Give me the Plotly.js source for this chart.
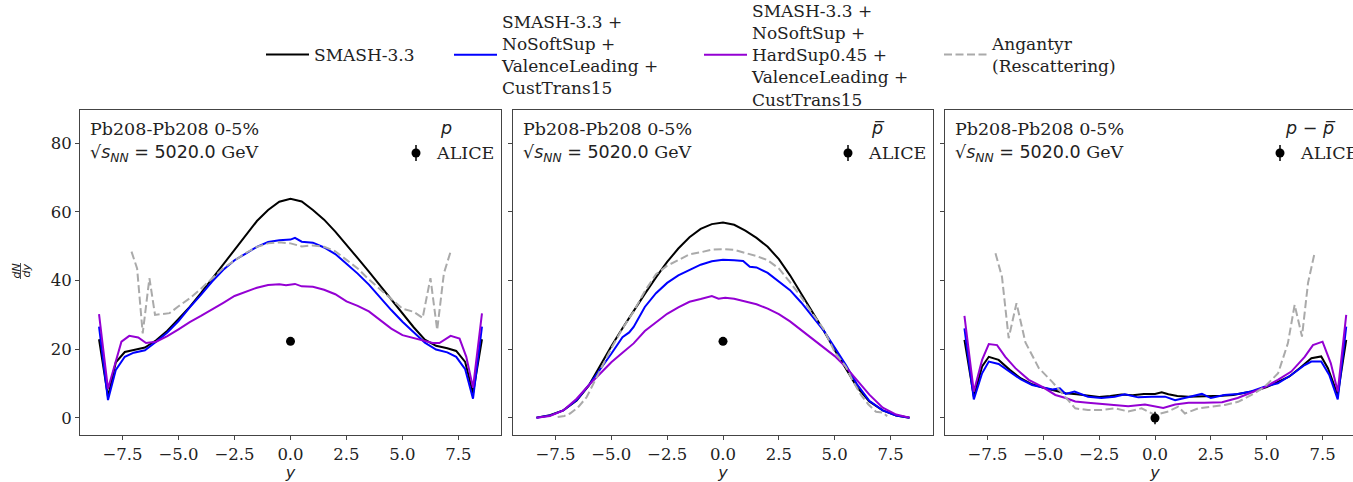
<!DOCTYPE html>
<html>
<head>
<meta charset="utf-8">
<script src="https://cdn.plot.ly/plotly-3.0.1.min.js"></script>
<style>
html,body{margin:0;padding:0;background:#fff;overflow:hidden;}
#chart{width:1370px;height:482px;}
</style>
</head>
<body>
<div id="chart"></div>
<script>
// ---------------- Data ----------------
const seriesNames = ["SMASH-3.3",
  "SMASH-3.3 +<br>NoSoftSup +<br>ValenceLeading +<br>CustTrans15",
  "SMASH-3.3 +<br>NoSoftSup +<br>HardSup0.45 +<br>ValenceLeading +<br>CustTrans15",
  "Angantyr<br>(Rescattering)"];
const panelLabels = ["<i>p</i>", "<i>p\u0305</i>", "<i>p</i> \u2212 <i>p\u0305</i>"];

// Panel 1: p
const p_smash_x = [-8.55,-8.15,-7.8,-7.4,-7.0,-6.5,-6.0,-5.5,-5.0,-4.5,-4.0,-3.5,-3.0,-2.5,-2.0,-1.5,-1.0,-0.5,0.0,0.5,1.0,1.5,2.0,2.5,3.0,3.5,4.0,4.5,5.0,5.5,6.0,6.5,7.0,7.4,7.8,8.15,8.55];
const p_smash_y = [22.9,6.2,16.2,19.2,19.8,20.5,22.6,25.4,28.8,32.3,36.3,40.5,44.6,49.0,53.0,57.3,60.5,62.9,63.8,63.0,60.5,57.7,54.2,50.5,46.5,42.6,38.6,34.5,30.4,26.4,22.8,21.0,20.3,19.5,16.3,7.2,22.9];
const p_nosoft_x = [-8.55,-8.15,-7.8,-7.4,-7.0,-6.5,-6.0,-5.5,-5.0,-4.5,-4.0,-3.5,-3.0,-2.5,-2.0,-1.5,-1.0,-0.5,0.0,0.2,0.5,1.0,1.5,2.0,2.5,3.0,3.5,4.0,4.5,5.0,5.5,6.0,6.5,7.0,7.4,7.8,8.15,8.55];
const p_nosoft_y = [26.6,5.2,14.0,17.8,19.0,19.7,22.2,24.9,28.2,32.2,35.8,39.7,43.1,45.9,47.8,49.8,51.2,51.7,51.9,52.4,51.3,51.0,49.6,47.7,44.9,42.0,38.8,35.0,31.4,28.0,25.0,21.9,19.9,19.1,17.8,14.2,5.6,26.6];
const p_hardsup_x = [-8.55,-8.15,-7.55,-7.2,-6.8,-6.45,-6.0,-5.5,-5.0,-4.5,-4.0,-3.5,-3.0,-2.5,-2.0,-1.5,-1.0,-0.5,-0.2,0.2,0.5,1.0,1.5,2.0,2.5,3.0,3.5,4.0,4.5,5.0,5.5,6.0,6.35,6.65,7.15,7.55,7.85,8.15,8.55];
const p_hardsup_y = [30.2,8.5,22.2,23.9,23.4,21.8,22.2,23.8,25.8,27.9,29.7,31.5,33.5,35.5,36.7,37.9,38.7,38.9,38.6,39.0,38.3,38.2,37.3,36.0,33.9,32.6,31.0,28.4,26.0,24.1,23.3,22.4,21.8,21.8,23.9,23.1,17.8,8.8,30.4];
const p_ang_x = [-7.1,-6.85,-6.6,-6.3,-6.05,-5.7,-5.4,-5.0,-4.5,-4.0,-3.5,-3.0,-2.5,-2.0,-1.5,-1.0,-0.5,0.0,0.5,1.0,1.5,2.0,2.5,3.0,3.5,4.0,4.5,5.0,5.5,5.9,6.25,6.55,6.85,7.15];
const p_ang_y = [48.4,43.5,24.6,40.7,30.0,30.2,30.5,32.5,34.8,37.6,40.5,43.6,45.8,48.0,49.8,50.8,51.1,50.8,49.9,50.2,49.8,48.5,46.0,43.5,40.3,37.5,34.5,31.8,30.9,29.1,40.7,25.6,42.1,48.4];

// Panel 2: anti-p
const pbar_x = [-8.35,-7.75,-7.15,-6.55,-6.0,-5.5,-5.0,-4.5,-4.0,-3.5,-3.0,-2.5,-2.0,-1.5,-1.0,-0.5,0.0,0.5,1.0,1.5,2.0,2.5,3.0,3.5,4.0,4.5,5.0,5.5,6.0,6.55,7.15,7.75,8.35];
const pbar_smash_y = [0.1,0.8,2.2,5.1,9.5,15.3,20.9,26.1,31.2,36.1,40.9,45.4,49.3,52.6,55.0,56.4,56.9,56.2,54.5,52.4,49.8,46.2,41.5,36.2,30.8,25.5,19.8,14.5,9.0,4.8,2.2,0.7,0.1];
const pbar_nosoft_x = [-8.35,-7.75,-7.15,-6.55,-6.0,-5.5,-5.0,-4.5,-4.2,-4.0,-3.5,-3.0,-2.5,-2.0,-1.5,-1.0,-0.5,0.0,0.5,0.9,1.2,1.5,2.0,2.5,3.0,3.5,4.0,4.5,5.0,5.5,6.0,6.55,7.15,7.75,8.35];
const pbar_nosoft_y = [0.1,0.7,2.2,5.2,9.6,14.0,18.7,23.5,24.9,26.5,32.3,36.3,39.3,41.5,43.0,44.6,45.6,46.0,45.9,45.7,44.0,43.8,42.2,39.8,37.2,33.6,29.6,25.5,20.5,15.4,9.8,5.0,2.2,0.7,0.1];
const pbar_hardsup_x = [-8.35,-7.75,-7.15,-6.55,-6.0,-5.5,-5.0,-4.5,-4.0,-3.5,-3.0,-2.5,-2.0,-1.5,-1.0,-0.5,-0.2,0.1,0.5,1.0,1.5,2.0,2.5,3.0,3.5,4.0,4.5,5.0,5.5,6.0,6.55,7.15,7.75,8.35];
const pbar_hardsup_y = [0.1,0.6,2.2,5.6,9.6,12.9,16.2,19.0,21.7,25.3,27.9,30.3,32.2,33.8,34.6,35.5,34.7,35.0,34.7,34.0,33.1,31.8,30.2,28.1,25.6,23.2,20.7,18.0,14.8,11.0,6.8,3.0,1.0,0.1];
const pbar_ang_x = [-7.4,-7.1,-6.85,-6.5,-6.1,-5.6,-5.0,-4.5,-4.0,-3.5,-3.0,-2.5,-2.0,-1.5,-1.0,-0.5,0.0,0.5,1.0,1.5,2.0,2.5,3.0,3.5,4.0,4.5,5.0,5.5,5.8,6.2,6.5,6.85,7.15,7.35];
const pbar_ang_y = [0.3,0.6,1.3,3.0,6.1,12.4,20.3,26.0,31.0,36.9,41.8,44.3,46.0,47.6,48.2,49.0,49.1,48.9,48.0,47.1,45.9,43.5,39.5,35.2,30.4,25.9,19.2,14.9,10.9,6.5,4.0,1.8,1.6,0.5];

// Panel 3: net proton p - anti-p
const net_smash_x = [-8.53,-8.11,-7.74,-7.44,-7.0,-6.5,-6.0,-5.5,-5.0,-4.5,-4.0,-3.5,-3.0,-2.5,-2.0,-1.5,-1.0,-0.5,0.0,0.3,0.6,1.0,1.5,2.0,2.5,3.0,3.5,4.0,4.5,5.0,5.5,6.0,6.5,7.0,7.44,7.74,8.18,8.56];
const net_smash_y = [22.7,6.2,15.0,17.8,16.9,14.0,11.5,9.8,8.8,7.9,7.2,6.9,6.5,6.1,6.4,6.8,6.6,7.0,7.0,7.5,6.9,6.4,6.2,6.3,6.2,6.5,6.7,7.2,7.9,9.0,10.6,12.0,14.6,17.4,17.9,14.5,6.7,22.7];
const net_nosoft_x = [-8.53,-8.11,-7.74,-7.44,-7.0,-6.5,-6.0,-5.5,-5.0,-4.6,-4.26,-4.0,-3.6,-3.0,-2.4,-1.8,-1.35,-0.75,-0.15,0.45,0.9,1.5,2.1,2.5,3.1,3.7,4.3,4.9,5.5,6.1,6.7,7.0,7.44,7.8,8.18,8.56];
const net_nosoft_y = [26.1,5.4,13.0,16.4,15.7,13.4,11.2,9.6,8.8,8.3,8.6,7.0,7.7,6.2,5.8,6.2,6.9,6.0,6.2,6.2,5.2,6.0,7.0,5.8,6.7,7.0,7.7,9.1,10.1,12.5,15.4,16.4,16.4,12.5,5.4,26.6];
const net_hardsup_x = [-8.53,-8.11,-7.74,-7.44,-7.07,-6.7,-6.25,-5.65,-5.06,-4.46,-4.0,-3.57,-3.0,-2.4,-1.8,-1.2,-0.45,0.37,0.9,1.5,2.2,3.0,3.7,4.3,4.9,5.5,6.1,6.7,7.07,7.5,7.87,8.18,8.56];
const net_hardsup_y = [29.7,7.7,16.9,21.5,21.2,17.8,14.5,11.1,9.1,6.7,5.8,4.8,4.4,4.1,3.7,3.4,3.9,2.9,3.9,4.4,4.4,4.6,5.8,7.4,8.9,11.1,13.5,17.8,21.2,22.2,15.9,7.7,30.0];
const net_ang_x = [-7.14,-6.85,-6.55,-6.2,-5.8,-5.2,-4.6,-4.0,-3.57,-3.0,-2.4,-1.8,-1.2,-0.6,0.0,0.6,1.04,1.34,1.93,2.53,3.13,3.72,4.32,4.91,5.51,5.95,6.25,6.58,6.85,7.14];
const net_ang_y = [47.9,41.1,23.2,33.4,22.0,14.5,10.5,6.0,2.8,2.3,2.3,2.8,1.9,2.8,0.9,1.9,3.3,1.3,2.8,3.3,3.8,4.7,6.7,9.1,13.0,21.8,32.9,23.7,39.3,47.9];

// ALICE measurements
const alice_x = [0.0, 0.0, 0.0];
const alice_y = [22.3, 22.3, 0.0];
const alice_err = [1.0, 1.0, 1.8];

// ---------------- Styling ----------------
const colors = ["#000000", "#0000ff", "#9400d3", "#aaaaaa"];
const dashes = ["solid", "solid", "solid", "8px,3.5px"];
const SERIF = "DejaVu Serif";
const SANS = "DejaVu Sans";
const TXT = 17.5;

const panels = [
  {xs:[p_smash_x,p_nosoft_x,p_hardsup_x,p_ang_x], ys:[p_smash_y,p_nosoft_y,p_hardsup_y,p_ang_y]},
  {xs:[pbar_x,pbar_nosoft_x,pbar_hardsup_x,pbar_ang_x], ys:[pbar_smash_y,pbar_nosoft_y,pbar_hardsup_y,pbar_ang_y]},
  {xs:[net_smash_x,net_nosoft_x,net_hardsup_x,net_ang_x], ys:[net_smash_y,net_nosoft_y,net_hardsup_y,net_ang_y]}
];

const traces = [];
panels.forEach((pn, i) => {
  const ax = i === 0 ? "" : String(i + 1);
  for (let s = 0; s < 4; s++) {
    traces.push({
      type: "scatter", mode: "lines",
      x: pn.xs[s], y: pn.ys[s],
      xaxis: "x" + ax, yaxis: "y" + ax,
      name: seriesNames[s],
      legend: s === 0 ? "legend" : "legend" + (s + 1),
      showlegend: i === 0,
      line: {color: colors[s], width: 2, dash: dashes[s]},
      hoverinfo: "skip"
    });
  }
  traces.push({
    type: "scatter", mode: "markers",
    x: [alice_x[i]], y: [alice_y[i]],
    xaxis: "x" + ax, yaxis: "y" + ax,
    name: "ALICE", showlegend: false,
    marker: {color: "#000", size: 9},
    error_y: {type: "data", array: [alice_err[i]], visible: true, color: "#000", thickness: 1.5, width: 0}
  });
});

// ---------------- Layout ----------------
const W = 1370, H = 482, ML = 80, MR = 5, MT = 110, MB = 47;
const PW = W - ML - MR; // 1285
const pxX = px => (px - ML) / PW;
const pxY = py => (H - MB - py) / (H - MT - MB);
const doms = [[pxX(80), pxX(501)], [pxX(513), pxX(933)], [pxX(945), pxX(1365)]];

const axisCommon = {
  range: [-9.4, 9.4], showgrid: false, zeroline: false,
  showline: true, mirror: true, linecolor: "#444", linewidth: 1,
  ticks: "outside", ticklen: 4, tickwidth: 1, tickcolor: "#444",
  tickfont: {family: SERIF, size: 16.5, color: "#222"},
  tick0: 0, dtick: 2.5, tickformat: ".1f"
};
const yCommon = {
  range: [-4.95, 89.6], showgrid: false, zeroline: false,
  showline: true, mirror: true, linecolor: "#444", linewidth: 1,
  ticks: "outside", ticklen: 4, tickwidth: 1, tickcolor: "#444",
  tickfont: {family: SERIF, size: 16.5, color: "#222"},
  tick0: 0, dtick: 20
};

const layout = {
  width: W, height: H,
  margin: {l: ML, r: MR, t: MT, b: MB, pad: 0, autoexpand: false},
  paper_bgcolor: "#fff", plot_bgcolor: "#fff",
  font: {family: SERIF, size: 16, color: "#222"},
  annotations: [], shapes: []
};

for (let i = 0; i < 3; i++) {
  const ax = i === 0 ? "" : String(i + 1);
  layout["xaxis" + ax] = Object.assign({}, axisCommon, {
    domain: doms[i], anchor: "y" + ax,
    title: {text: "<i>y</i>", font: {family: SANS, size: 16, color: "#222"}, standoff: 4}
  });
  layout["yaxis" + ax] = Object.assign({}, yCommon, {
    domain: [0, 1], anchor: "x" + ax,
    showticklabels: i === 0
  });
  const xr = "x" + ax + " domain", yr = "y" + ax + " domain";
  const wpx = (doms[i][1] - doms[i][0]) * PW;
  layout.annotations.push(
    {xref: xr, yref: yr, x: 8 / wpx, y: 1 - 19 / 325, xanchor: "left", yanchor: "middle", showarrow: false,
     text: "Pb208-Pb208 0-5%", font: {family: SERIF, size: TXT, color: "#222"}},
    {xref: xr, yref: yr, x: 8 / wpx, y: 1 - 43 / 325, xanchor: "left", yanchor: "middle", showarrow: false,
     text: "<span style='font-family:DejaVu Sans'>\u221A<i>s</i><sub><i>NN</i></sub> = 5020.0</span> GeV",
     font: {family: SERIF, size: TXT, color: "#222"}},
    {xref: xr, yref: yr, x: 1 - 55 / wpx, y: 1 - 18 / 325, xanchor: "center", yanchor: "middle", showarrow: false,
     text: panelLabels[i], font: {family: SANS, size: TXT, color: "#222"}},
    {xref: xr, yref: yr, x: 1 - 67 / wpx, y: 1 - 43 / 325, xanchor: "left", yanchor: "middle", showarrow: false,
     text: "ALICE", font: {family: SERIF, size: TXT, color: "#222"}}
  );
  const mx = 1 - 85 / wpx, my = 1 - 43 / 325;
  layout.shapes.push(
    {type: "circle", xref: xr, yref: yr, xsizemode: "pixel", ysizemode: "pixel",
     xanchor: mx, yanchor: my, x0: -4.5, x1: 4.5, y0: -4.5, y1: 4.5,
     fillcolor: "#000", line: {width: 0}},
    {type: "line", xref: xr, yref: yr, xsizemode: "pixel", ysizemode: "pixel",
     xanchor: mx, yanchor: my, x0: 0, x1: 0, y0: -8, y1: 8,
     line: {color: "#000", width: 1.5}}
  );
}

// y-axis label as a fraction dN/dy
layout.annotations.push(
  {xref: "paper", yref: "paper", x: pxX(15.5), y: pxY(271), xanchor: "center", yanchor: "middle",
   showarrow: false, textangle: -90, text: "<i>dN</i>", font: {family: SANS, size: 11, color: "#222"}},
  {xref: "paper", yref: "paper", x: pxX(25.5), y: pxY(271), xanchor: "center", yanchor: "middle",
   showarrow: false, textangle: -90, text: "<i>dy</i>", font: {family: SANS, size: 11, color: "#222"}}
);
layout.shapes.push({type: "line", xref: "paper", yref: "paper", x0: pxX(20.5), x1: pxX(20.5), y0: pxY(263), y1: pxY(279),
  line: {color: "#222", width: 0.8}});

// legends, one per series, placed above the panels (container coordinates)
const legX = [261, 449, 699, 939];
["legend", "legend2", "legend3", "legend4"].forEach((k, j) => {
  layout[k] = {
    xref: "container", yref: "container",
    x: legX[j] / W, y: 1 - 55 / H, xanchor: "left", yanchor: "middle",
    orientation: "v", bgcolor: "rgba(0,0,0,0)", borderwidth: 0,
    font: {family: SERIF, size: 17, color: "#222"}, valign: "middle", itemwidth: 43
  };
});

Plotly.newPlot("chart", traces, layout, {displayModeBar: false, staticPlot: true});
</script>
</body>
</html>
